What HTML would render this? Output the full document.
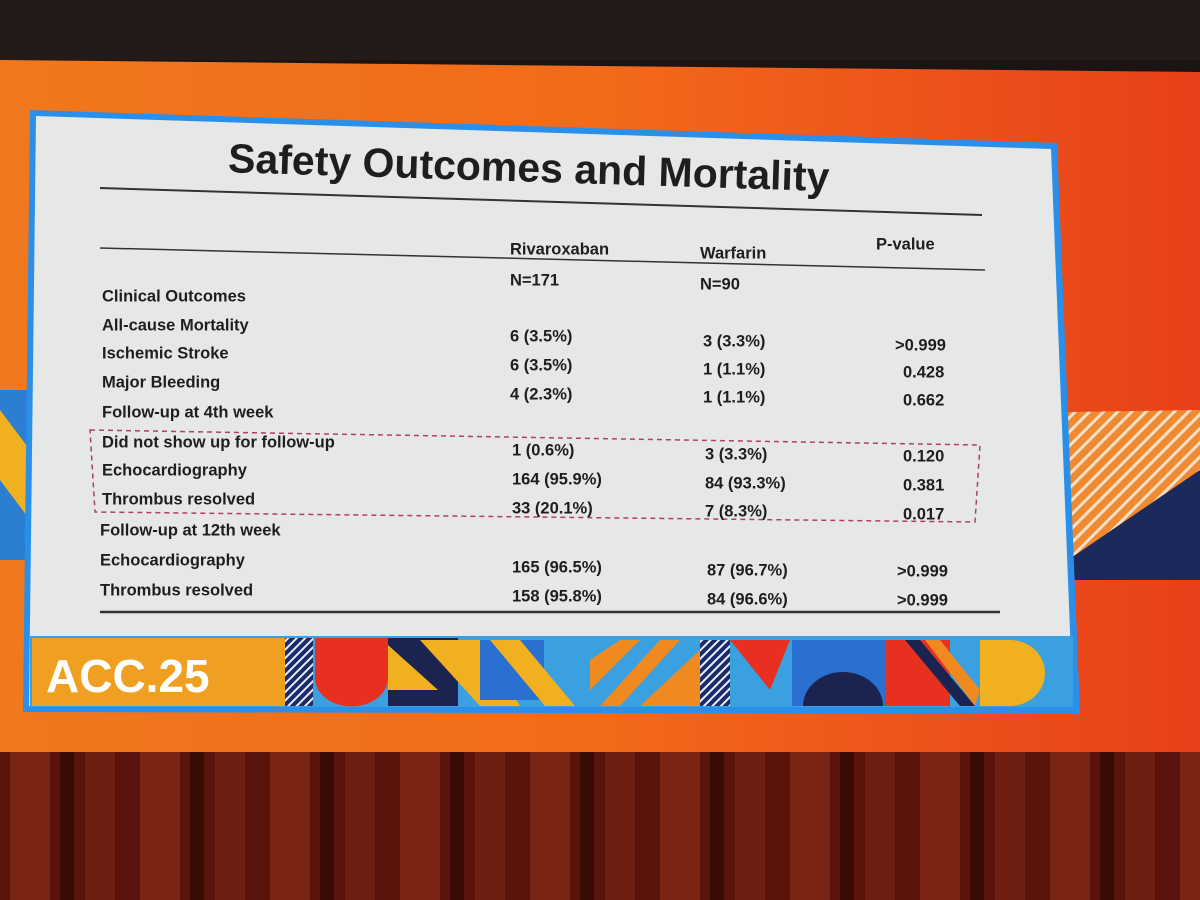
<!DOCTYPE html>
<html><head><meta charset="utf-8"><style>
html,body{margin:0;padding:0;width:1200px;height:900px;overflow:hidden;background:#1a1210}
svg{display:block}
text{font-family:"Liberation Sans",Arial,sans-serif;font-weight:bold;fill:#1e1e1e}
</style></head><body>
<svg width="1200" height="900" viewBox="0 0 1200 900">
<defs>
<linearGradient id="bg" x1="0" x2="1" y1="0" y2="0">
<stop offset="0" stop-color="#f0781e"/><stop offset="0.5" stop-color="#f26a1a"/><stop offset="1" stop-color="#e8401a"/></linearGradient>
<pattern id="curtain" width="130" height="150" patternUnits="userSpaceOnUse">
<rect width="130" height="150" fill="#5a140c"/><rect x="10" width="40" height="150" fill="#7a2414"/><rect x="60" width="14" height="150" fill="#3a0c06"/><rect x="85" width="30" height="150" fill="#6e1e10"/></pattern>
<pattern id="stripes" width="10" height="10" patternUnits="userSpaceOnUse" patternTransform="rotate(45)">
<rect width="10" height="10" fill="#f08a30"/><rect width="3" height="10" fill="#f4e0c8"/></pattern>
<pattern id="bstripes" width="6" height="6" patternUnits="userSpaceOnUse" patternTransform="rotate(45)">
<rect width="6" height="6" fill="#1b2a6a"/><rect width="2" height="6" fill="#e8eef8"/></pattern>
<clipPath id="foot"><rect x="30" y="636" width="1043" height="71"/></clipPath>
</defs>
<rect width="1200" height="900" fill="#1c1412"/>
<rect x="0" y="0" width="1200" height="60" fill="#241a17"/>
<polygon points="0,60 1200,72 1200,752 0,752" fill="url(#bg)"/>
<rect x="0" y="752" width="1200" height="148" fill="url(#curtain)"/>
<polygon points="0,390 30,390 30,560 0,560" fill="#2a7fd0"/>
<polygon points="0,410 30,450 30,520 0,480" fill="#f0b020"/>
<polygon points="1068,412 1200,410 1200,470 1068,560" fill="url(#stripes)"/>
<polygon points="1068,560 1200,470 1200,580 1068,580" fill="#1b2a5a"/>
<polygon points="30,110 1057,143 1080,714 23,712" fill="#2a8fe8"/>
<polygon points="36,116 1051,149 1073,707 29,706" fill="#e6e8e7"/>
<g clip-path="url(#foot)">
<rect x="30" y="636" width="1043" height="71" fill="#3aa0e0"/>
<rect x="32" y="638" width="253" height="68" fill="#f0a020"/>
<rect x="285" y="638" width="28" height="68" fill="url(#bstripes)"/>
<path d="M315,638 h73 v40 a36,28 0 0 1 -73,0 z" fill="#e83020"/>
<rect x="388" y="638" width="70" height="68" fill="#1b2450"/>
<polygon points="388,645 388,690 438,690" fill="#f0b020"/>
<polygon points="420,640 480,640 520,706 480,706" fill="#f0b020"/>
<rect x="480" y="640" width="64" height="60" fill="#2a70d0"/>
<polygon points="490,640 520,640 575,706 545,706" fill="#f0b020"/>
<polygon points="590,660 620,640 640,640 590,690" fill="#f08a20"/>
<polygon points="600,706 660,640 680,640 620,706" fill="#f08a20"/>
<polygon points="640,706 700,650 700,706" fill="#f08a20"/>
<rect x="700" y="640" width="30" height="66" fill="url(#bstripes)"/>
<polygon points="730,640 790,640 770,690" fill="#e83020"/>
<rect x="792" y="640" width="93" height="66" fill="#2a70d0"/>
<path d="M803,706 a40,34 0 0 1 80,0 z" fill="#1b2450"/>
<rect x="885" y="640" width="65" height="66" fill="#e83020"/>
<polygon points="905,640 920,640 975,706 960,706" fill="#1b2450"/>
<polygon points="925,640 940,640 980,690 975,706" fill="#f08a20"/>
<path d="M980,640 h30 a35,33 0 0 1 0,66 h-30 z" fill="#f0b020"/>
</g>
<text x="46" y="692" style="fill:#fff;font-size:46px">ACC.25</text>
<g>
<text x="228" y="182" font-size="41" transform="rotate(1.8 540 170)">Safety Outcomes and Mortality</text>
<line x1="100" y1="188" x2="982" y2="215" stroke="#333" stroke-width="2"/>
<line x1="100" y1="248" x2="985" y2="270" stroke="#333" stroke-width="1.5"/>
<line x1="100" y1="612" x2="1000" y2="612" stroke="#333" stroke-width="2.5"/>
<polygon points="90,430 980,445 975,522 95,512" fill="none" stroke="#b04060" stroke-width="1.5" stroke-dasharray="5,4"/>
<g font-size="16.5" dominant-baseline="middle">
<text x="510" y="250">Rivaroxaban</text>
<text x="700" y="254">Warfarin</text>
<text x="876" y="245">P-value</text>
<text x="510" y="281">N=171</text>
<text x="700" y="285">N=90</text>
<text x="102" y="297">Clinical Outcomes</text>
<text x="102" y="326">All-cause Mortality</text><text x="510" y="337">6 (3.5%)</text><text x="703" y="342">3 (3.3%)</text><text x="895" y="346">&gt;0.999</text>
<text x="102" y="354">Ischemic Stroke</text><text x="510" y="366">6 (3.5%)</text><text x="703" y="370">1 (1.1%)</text><text x="903" y="373">0.428</text>
<text x="102" y="383">Major Bleeding</text><text x="510" y="395">4 (2.3%)</text><text x="703" y="398">1 (1.1%)</text><text x="903" y="401">0.662</text>
<text x="102" y="413">Follow-up at 4th week</text>
<text x="102" y="443">Did not show up for follow-up</text><text x="512" y="451">1 (0.6%)</text><text x="705" y="455">3 (3.3%)</text><text x="903" y="457">0.120</text>
<text x="102" y="471">Echocardiography</text><text x="512" y="480">164 (95.9%)</text><text x="705" y="484">84 (93.3%)</text><text x="903" y="486">0.381</text>
<text x="102" y="500">Thrombus resolved</text><text x="512" y="509">33 (20.1%)</text><text x="705" y="512">7 (8.3%)</text><text x="903" y="515">0.017</text>
<text x="100" y="531">Follow-up at 12th week</text>
<text x="100" y="561">Echocardiography</text><text x="512" y="568">165 (96.5%)</text><text x="707" y="571">87 (96.7%)</text><text x="897" y="572">&gt;0.999</text>
<text x="100" y="591">Thrombus resolved</text><text x="512" y="597">158 (95.8%)</text><text x="707" y="600">84 (96.6%)</text><text x="897" y="601">&gt;0.999</text>
</g>
</g>
</svg>
</body></html>
